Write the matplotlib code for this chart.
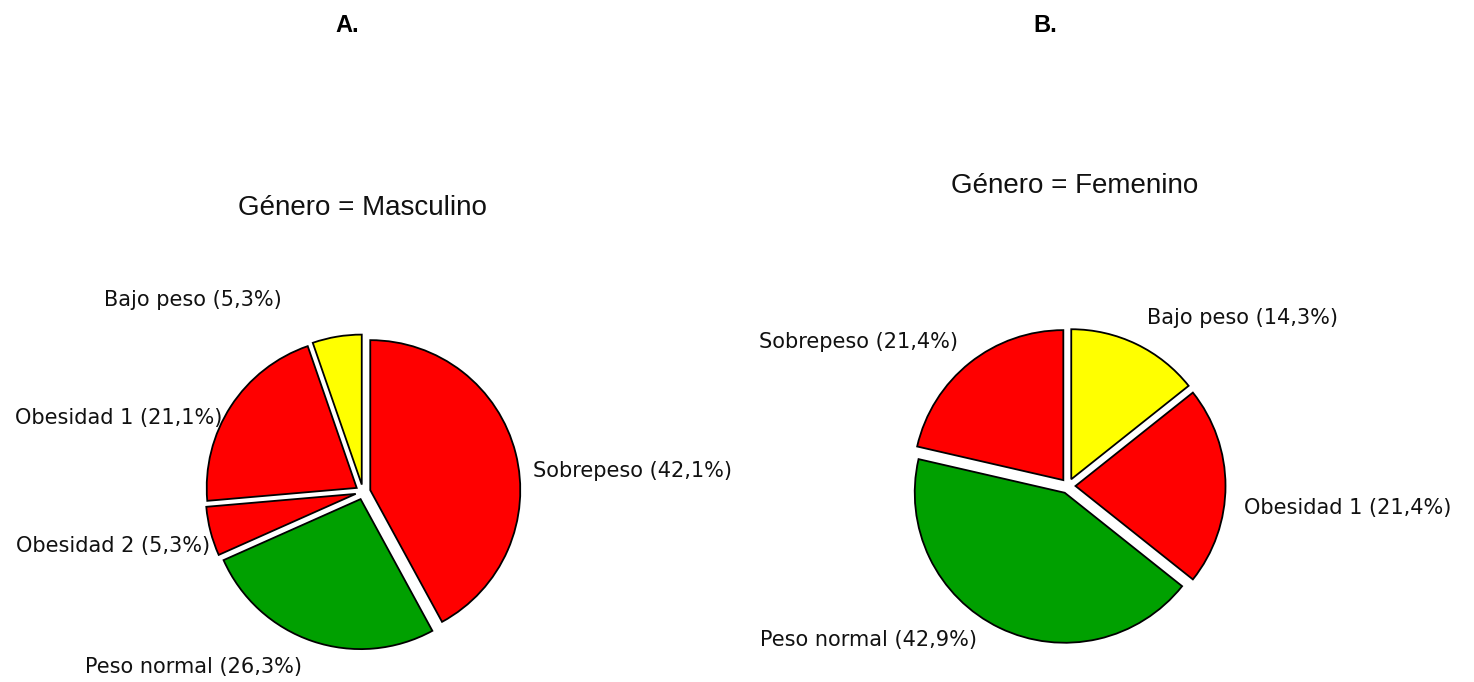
import matplotlib.pyplot as plt

# Estado nutricional por género (porcentajes)
cats_masc = ['Sobrepeso', 'Peso normal', 'Obesidad 2', 'Obesidad 1', 'Bajo peso']
vals_masc = [42.1, 26.3, 5.3, 21.1, 5.3]
cols_masc = ['#ff0000', '#00a000', '#ff0000', '#ff0000', '#ffff00']

cats_fem = ['Bajo peso', 'Obesidad 1', 'Peso normal', 'Sobrepeso']
vals_fem = [14.3, 21.4, 42.9, 21.4]
cols_fem = ['#ffff00', '#ff0000', '#00a000', '#ff0000']

W, H = 1474, 682
R = 150

fig = plt.figure(figsize=(W / 100, H / 100), dpi=100)
ax = fig.add_axes([0, 0, 1, 1])

# label anchors (pixel coords, y up) and alignment
lab_masc = [((533, 211), 'left'), ((302, 15), 'right'), ((210, 136), 'right'),
            ((222, 264), 'right'), ((282, 382), 'right')]
lab_fem = [((1147, 364), 'left'), ((1244, 174), 'left'), ((977, 42), 'right'),
           ((958, 340), 'right')]


def draw_pie(cats, vals, cols, center, labpos):
    ax.pie(vals, colors=cols, startangle=90, counterclock=False,
           explode=[0.05 * R] * len(vals), center=center, radius=R,
           wedgeprops=dict(edgecolor='black', linewidth=1.3))
    for c, v, (xy, ha) in zip(cats, vals, labpos):
        txt = '%s (%s%%)' % (c, ('%.1f' % v).replace('.', ','))
        ax.text(xy[0], xy[1], txt, ha=ha, va='center', fontsize=15,
                family='DejaVu Sans', color='#111111')


draw_pie(cats_masc, vals_masc, cols_masc, (363, 190), lab_masc)
draw_pie(cats_fem, vals_fem, cols_fem, (1068, 196), lab_fem)

ax.set_xlim(0, W)
ax.set_ylim(0, H)
ax.set_aspect('equal')
ax.axis('off')

ax.text(362, 474, 'Género = Masculino', ha='center', va='center',
        fontsize=20, family='Liberation Sans', color='#111111')
ax.text(1075, 496, 'Género = Femenino', ha='center', va='center',
        fontsize=20, family='Liberation Sans', color='#111111')
ax.text(347, 657, 'A.', ha='center', va='center', fontsize=17,
        fontweight='bold', family='Liberation Sans')
ax.text(1045, 657, 'B.', ha='center', va='center', fontsize=17,
        fontweight='bold', family='Liberation Sans')

fig.savefig('out.png', dpi=100, facecolor='white')
